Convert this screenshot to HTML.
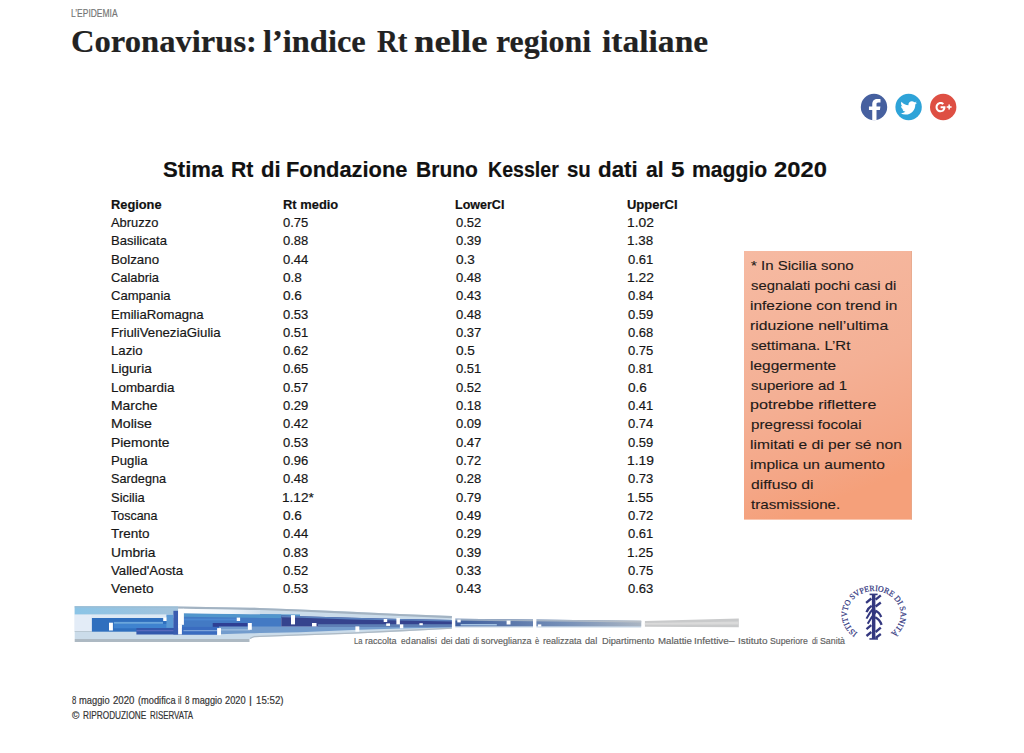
<!DOCTYPE html>
<html lang="it"><head><meta charset="utf-8"><title>Coronavirus: l’indice Rt nelle regioni italiane</title>
<style>
html,body{margin:0;padding:0;background:#fff;}
body{width:1024px;height:753px;position:relative;overflow:hidden;font-family:"Liberation Sans",sans-serif;}
.t{position:absolute;white-space:nowrap;transform-origin:0 0;display:block;-webkit-text-stroke:0.18px currentColor;}
svg{position:absolute;left:0;top:0;}
</style></head><body>
<svg width="1024" height="753" viewBox="0 0 1024 753">
<defs>
<linearGradient id="gbox" x1="0" y1="0" x2="0.25" y2="1">
<stop offset="0" stop-color="#f6baa2"/><stop offset="0.55" stop-color="#f4b095"/><stop offset="0.85" stop-color="#f4a686"/><stop offset="1" stop-color="#f5a07a"/>
</linearGradient>
<linearGradient id="gtop" x1="0" y1="0" x2="1" y2="0">
<stop offset="0" stop-color="#8bc4e6"/><stop offset="1" stop-color="#a3c3dc"/>
</linearGradient>
<linearGradient id="gmid" x1="0" y1="0" x2="1" y2="0">
<stop offset="0" stop-color="#2f74c4"/><stop offset="0.5" stop-color="#3158a8"/><stop offset="1" stop-color="#5a78a8"/>
</linearGradient>
<linearGradient id="gtail" x1="0" y1="0" x2="1" y2="0">
<stop offset="0" stop-color="#3f5e9e"/><stop offset="0.6" stop-color="#7690b8"/><stop offset="1" stop-color="#aab5c3"/>
</linearGradient>
<linearGradient id="gnotch" x1="0" y1="0" x2="1" y2="0">
<stop offset="0" stop-color="#ffffff"/><stop offset="0.6" stop-color="#f1f6fb"/><stop offset="1" stop-color="#d3e2ef"/>
</linearGradient>
<linearGradient id="gtailtop" x1="0" y1="0" x2="1" y2="0">
<stop offset="0" stop-color="#93a8c2"/><stop offset="1" stop-color="#b9c0c8"/>
</linearGradient>
<path id="arc" d="M 857.40 633.02 A 26.8 23.5 0 1 1 890.40 633.02"/>
</defs>

<!-- note box -->
<rect x="744" y="251" width="167.9" height="268.6" fill="url(#gbox)"/>
<rect x="911" y="251" width="0.9" height="268.6" fill="#e3a688" opacity="0.8"/>

<!-- bottom band -->
<g id="band">
<polygon points="74.7,606.3 178.0,606.6 250.0,607.7 254.0,607.8 260.0,607.9 300.0,609.4 352.0,611.7 400.0,613.9 452.0,616.1 452.0,628.8 400.0,631.4 352.0,633.8 300.0,635.6 260.0,637.0 254.0,637.2 250.0,639.0 178.0,639.0 74.7,639.0" fill="#cbdcea"/>
<rect x="74.7" y="639.0" width="174.8" height="3.0" fill="#adb9c3"/>
<polygon points="250.0,637.7 254.0,635.9 260.0,635.7 300.0,634.3 352.0,632.5 400.0,630.1 452.0,627.5 452.0,628.8 400.0,631.4 352.0,633.8 300.0,635.6 260.0,637.0 254.0,637.2 250.0,639.0" fill="#aebac5"/>
<polygon points="74.7,606.3 178.0,606.6 178.1,606.6 178.1,614.6 178.0,614.6 74.7,614.6" fill="url(#gtop)"/>
<polygon points="178.1,606.6 250.0,607.7 254.0,607.8 260.0,607.9 300.0,609.4 352.0,611.7 400.0,613.9 452.0,616.1 452.0,618.3 400.0,616.1 352.0,613.9 300.0,611.6 260.0,610.1 254.0,610.0 250.0,609.9 178.1,608.8" fill="#a3b3c2"/>
<polygon points="74.7,606.3 178.0,606.6 178.1,606.6 178.1,607.8 178.0,607.8 74.7,607.5" fill="#9dbdd3"/>
<rect x="74.7" y="614.6" width="17.2" height="16.8" fill="#e3ecf7"/>
<rect x="91.9" y="614.6" width="86.2" height="3.4" fill="#dde9f4"/>
<rect x="74.7" y="631.0" width="17.2" height="1.0" fill="#b9c8d3"/>
<rect x="91.9" y="618.0" width="81.3" height="13.7" fill="#2f6fbe"/>
<rect x="113.9" y="621.9" width="49.1" height="2.0" fill="#6aa6dc"/>
<rect x="113.9" y="623.9" width="59.3" height="4.4" fill="#3f83cf"/>
<rect x="166.4" y="614.6" width="7.0" height="13.2" fill="#5a98d4"/>
<rect x="136.4" y="628.0" width="80.6" height="6.5" fill="#3458ac"/>
<rect x="136.4" y="630.3" width="80.6" height="0.9" fill="#6a72c4"/>
<rect x="173.4" y="610.8" width="4.7" height="23.7" fill="#3a5cb0"/>
<polygon points="181.7,613.2 250.0,614.2 254.0,614.2 260.0,614.3 281.3,614.6 281.3,626.9 260.0,626.9 254.0,626.9 250.0,626.9 181.7,626.9" fill="#437ac4"/>
<polygon points="183.4,613.2 250.0,614.2 254.0,614.2 260.0,614.3 300.0,614.6 300.0,618.2 260.0,617.9 254.0,617.8 250.0,617.8 183.4,616.8" fill="#5196cc"/>
<rect x="183.4" y="618.6" width="52.6" height="1.8" fill="#4d88d2"/>
<rect x="212.7" y="623.0" width="34.8" height="3.9" fill="#2e3f94"/>
<rect x="181.7" y="626.9" width="37.3" height="7.6" fill="#3a6cc0"/>
<rect x="183.4" y="630.1" width="33.6" height="1.1" fill="#86aadc"/>
<polygon points="219.0,626.4 250.0,626.4 254.0,626.4 260.0,626.4 300.0,626.4 352.0,626.4 400.0,626.4 452.0,626.4 452.0,627.4 400.0,628.6 352.0,630.0 300.0,632.2 260.0,633.0 254.0,633.2 250.0,633.3 219.0,634.2" fill="#739ccd"/>
<rect x="221.0" y="629.4" width="29.0" height="1.0" fill="#a8c6e4"/>
<polygon points="281.3,615.6 300.0,616.2 352.0,617.8 400.0,618.9 452.0,620.0 452.0,626.6 400.0,626.6 352.0,626.6 300.0,626.6 281.3,626.6" fill="#35438e"/>
<polygon points="281.3,615.6 300.0,616.2 352.0,617.8 400.0,618.9 452.0,620.0 452.0,621.6 400.0,620.5 352.0,619.4 300.0,617.8 281.3,617.2" fill="#5a80bd"/>
<rect x="318.0" y="624.2" width="134.0" height="2.6" fill="#5d7eb5"/>
<rect x="178.1" y="608.7" width="5.8" height="16.1" fill="#fff"/>
<rect x="178.1" y="624.8" width="3.8" height="9.5" fill="#fff"/>
<polygon points="183.4,608.8 250.0,609.9 254.0,610.0 260.0,610.1 260.0,614.3 254.0,614.2 250.0,614.2 183.4,613.2" fill="url(#gnotch)"/>
<rect x="109.0" y="622.7" width="3.9" height="7.8" fill="#fff"/>
<rect x="163.2" y="617.6" width="3.4" height="3.4" fill="#fff"/>
<rect x="236.7" y="617.6" width="3.4" height="3.4" fill="#fff"/>
<rect x="247.9" y="623.0" width="3.9" height="6.8" fill="#fff"/>
<rect x="217.1" y="628.1" width="3.9" height="7.1" fill="#fff"/>
<rect x="291.0" y="615.1" width="4.0" height="9.3" fill="#fff"/>
<rect x="312.0" y="623.0" width="4.5" height="3.4" fill="#fff"/>
<rect x="355.4" y="626.4" width="3.9" height="5.3" fill="#fff"/>
<rect x="383.7" y="619.0" width="3.5" height="3.0" fill="#fff"/>
<rect x="386.2" y="623.4" width="3.8" height="2.5" fill="#fff"/>
<rect x="396.4" y="618.0" width="3.5" height="6.4" fill="#fff"/>
<rect x="399.9" y="624.4" width="3.4" height="3.9" fill="#fff"/>
<rect x="419.4" y="623.2" width="3.4" height="2.0" fill="#fff"/>
<polygon points="452.0,618.7 641.2,620.8 641.2,627.6 452.0,627.6" fill="#c6d6e6"/>
<polygon points="452.0,618.7 641.2,620.8 641.2,626.2 452.0,626.2" fill="url(#gtail)"/>
<polygon points="452.0,618.7 641.2,620.8 641.2,622.6 452.0,620.5" fill="url(#gtailtop)"/>
<rect x="460.7" y="624.0" width="36.1" height="1.5" fill="#a3c2e2"/>
<rect x="451.9" y="616.5" width="3.4" height="13.0" fill="#fff"/>
<rect x="533.0" y="617.5" width="3.4" height="11.5" fill="#fff"/>
<rect x="457.3" y="619.6" width="3.4" height="2.8" fill="#fff"/>
<rect x="506.6" y="620.6" width="3.9" height="3.9" fill="#fff"/>
<rect x="537.8" y="624.4" width="3.5" height="2.2" fill="#fff"/>
<polygon points="644.9,621 738.8,618.5 738.8,627.3 644.9,626.7" fill="#c9cacb"/>
<polygon points="644.9,623.0 738.8,621.4 738.8,624.4 644.9,624.8" fill="#dadada"/>
</g>

<!-- social icons -->
<g id="social">
<circle cx="874" cy="107" r="13.2" fill="#46609f"/>
<path transform="translate(0.9,0.3)" d="M875.6 120.0 v-10.2 h3.4 l0.5 -3.6 h-3.9 v-2.3 c0 -1.05 0.3 -1.75 1.8 -1.75 h2.2 v-3.2 c-0.4 -0.05 -1.65 -0.16 -3.1 -0.16 c-3.05 0 -5.15 1.85 -5.15 5.3 v2.1 h-3.3 v3.6 h3.3 v10.4 z" fill="#fff"/>
<circle cx="908.6" cy="107" r="13.2" fill="#2ea3d8"/>
<path transform="translate(900.4,99.6) scale(0.69)" d="M23.95 4.57c-.88.39-1.83.65-2.83.78 1.02-.61 1.8-1.58 2.17-2.72-.95.55-2 .96-3.13 1.19A4.92 4.92 0 0 0 16.57 2.3c-2.72 0-4.92 2.2-4.92 4.92 0 .39.04.76.13 1.12C7.69 8.14 4.07 6.18 1.64 3.2a4.9 4.9 0 0 0-.67 2.47c0 1.71.87 3.21 2.19 4.09a4.9 4.9 0 0 1-2.23-.61v.06c0 2.38 1.69 4.37 3.95 4.83-.42.11-.85.17-1.3.17-.31 0-.62-.03-.92-.08a4.93 4.93 0 0 0 4.6 3.42A9.87 9.87 0 0 1 0 19.54a13.94 13.94 0 0 0 7.55 2.21c9.05 0 14-7.5 14-14 0-.21 0-.42-.02-.63.96-.69 1.8-1.56 2.46-2.55z" fill="#fff"/>
<circle cx="943.2" cy="107" r="13.2" fill="#de4f43"/>
<g fill="#fff">
<path d="M940.6 106.3 v1.9 h2.7 c-0.25 1.2 -1.3 2.05 -2.7 2.05 c-1.7 0 -3.05 -1.4 -3.05 -3.1 s1.35 -3.1 3.05 -3.1 c0.75 0 1.45 0.27 2 0.75 l1.4 -1.4 c-0.9 -0.82 -2.1 -1.3 -3.4 -1.3 c-2.8 0 -5.05 2.25 -5.05 5.05 s2.25 5.05 5.05 5.05 c2.9 0 4.85 -2.05 4.85 -4.95 c0 -0.33 -0.03 -0.65 -0.09 -0.95 z"/>
<path d="M951.6 106.3 h-1.7 v-1.7 h-1.5 v1.7 h-1.7 v1.5 h1.7 v1.7 h1.5 v-1.7 h1.7 z"/>
</g>
</g>

<!-- ISS logo -->
<g id="iss" fill="#33377f">
<text font-family="Liberation Serif, serif" font-size="8.2" stroke="#33377f" stroke-width="0.22" textLength="122.4" lengthAdjust="spacingAndGlyphs"><textPath href="#arc" startOffset="0" textLength="122.4" lengthAdjust="spacingAndGlyphs">ISTITVTO SVPERIORE DI SANITÀ</textPath></text>
<rect x="871.9" y="594.4" width="3.5" height="44.6"/>
<rect x="869.6" y="593.6" width="8" height="1.6"/>
<rect x="869.4" y="638.2" width="8.6" height="1.5"/>
<g fill="none" stroke="#33377f" stroke-width="2.3" stroke-linecap="butt">
<path d="M875.6 599.7 L880.8 595.3"/>
<path d="M875.6 606.5 L880.8 602.5"/>
<path d="M875.2 610.5 Q879.4 612.2 881.2 617"/>
<path d="M875.2 617.3 Q879.8 619.6 881.6 624.8"/>
<path d="M875.6 632 L880.8 627.6"/>
<path d="M875.6 638 L880.8 634"/>
<path d="M866.1 602.9 L871.3 598.5"/>
<path d="M866.5 612.2 Q868.2 607.8 871.7 605.7"/>
<path d="M866.5 618.6 Q869.8 612 874.4 607.2" stroke-width="2"/>
<path d="M867.7 623.8 Q871.6 616.8 876 611.6" stroke-width="2"/>
<path d="M866.5 629.2 L871.3 625.2"/>
<path d="M866.5 636 L871.3 632"/>
</g>
</g>
</svg>

<span class="t" style="left:71.09px;top:5px;font-size:10.8px;line-height:16px;color:#757575;transform:scaleX(0.7834);">L’EPIDEMIA</span>
<span class="t" style="left:71.36px;top:21px;font-size:32px;line-height:40px;font-weight:bold;font-family:'Liberation Serif',serif;color:#222;transform:scaleX(1.0186);">Coronavirus:</span>
<span class="t" style="left:263.49px;top:21px;font-size:32px;line-height:40px;font-weight:bold;font-family:'Liberation Serif',serif;color:#222;transform:scaleX(1.0134);">l’indice</span>
<span class="t" style="left:376.74px;top:21px;font-size:32px;line-height:40px;font-weight:bold;font-family:'Liberation Serif',serif;color:#222;transform:scaleX(0.9000);">Rt</span>
<span class="t" style="left:414.43px;top:21px;font-size:32px;line-height:40px;font-weight:bold;font-family:'Liberation Serif',serif;color:#222;transform:scaleX(1.1500);">nelle</span>
<span class="t" style="left:496.14px;top:21px;font-size:32px;line-height:40px;font-weight:bold;font-family:'Liberation Serif',serif;color:#222;transform:scaleX(0.9962);">regioni</span>
<span class="t" style="left:602.09px;top:21px;font-size:32px;line-height:40px;font-weight:bold;font-family:'Liberation Serif',serif;color:#222;transform:scaleX(1.0476);">italiane</span>
<span class="t" style="left:163.03px;top:155px;font-size:22px;line-height:29px;font-weight:bold;color:#111;transform:scaleX(1.0058);">Stima</span>
<span class="t" style="left:230.75px;top:155px;font-size:22px;line-height:29px;font-weight:bold;color:#111;transform:scaleX(0.9644);">Rt</span>
<span class="t" style="left:261.03px;top:155px;font-size:22px;line-height:29px;font-weight:bold;color:#111;transform:scaleX(1.0046);">di</span>
<span class="t" style="left:286.49px;top:155px;font-size:22px;line-height:29px;font-weight:bold;color:#111;transform:scaleX(0.9942);">Fondazione</span>
<span class="t" style="left:416.31px;top:155px;font-size:22px;line-height:29px;font-weight:bold;color:#111;transform:scaleX(0.9569);">Bruno</span>
<span class="t" style="left:488.19px;top:155px;font-size:22px;line-height:29px;font-weight:bold;color:#111;transform:scaleX(0.8908);">Kessler</span>
<span class="t" style="left:567.35px;top:155px;font-size:22px;line-height:29px;font-weight:bold;color:#111;transform:scaleX(0.9293);">su</span>
<span class="t" style="left:598.46px;top:155px;font-size:22px;line-height:29px;font-weight:bold;color:#111;transform:scaleX(1.0160);">dati</span>
<span class="t" style="left:645.72px;top:155px;font-size:22px;line-height:29px;font-weight:bold;color:#111;transform:scaleX(0.9593);">al</span>
<span class="t" style="left:670.86px;top:155px;font-size:22px;line-height:29px;font-weight:bold;color:#111;transform:scaleX(1.1030);">5</span>
<span class="t" style="left:691.86px;top:155px;font-size:22px;line-height:29px;font-weight:bold;color:#111;transform:scaleX(0.9624);">maggio</span>
<span class="t" style="left:774.02px;top:155px;font-size:22px;line-height:29px;font-weight:bold;color:#111;transform:scaleX(1.0796);">2020</span>
<span class="t" style="left:110.66px;top:196px;font-size:12.6px;line-height:18px;font-weight:bold;color:#111;transform:scaleX(1.0181);">Regione</span>
<span class="t" style="left:282.98px;top:196px;font-size:12.6px;line-height:18px;font-weight:bold;color:#111;transform:scaleX(1.0255);">Rt medio</span>
<span class="t" style="left:455.34px;top:196px;font-size:12.6px;line-height:18px;font-weight:bold;color:#111;transform:scaleX(0.9936);">LowerCI</span>
<span class="t" style="left:626.87px;top:196px;font-size:12.6px;line-height:18px;font-weight:bold;color:#111;transform:scaleX(1.0307);">UpperCI</span>
<span class="t" style="left:111.02px;top:214px;font-size:12.6px;line-height:18px;color:#161616;transform:scaleX(1.0243);">Abruzzo</span>
<span class="t" style="left:283.33px;top:214px;font-size:12.6px;line-height:18px;color:#161616;transform:scaleX(1.0331);">0.75</span>
<span class="t" style="left:455.59px;top:214px;font-size:12.6px;line-height:18px;color:#161616;transform:scaleX(1.0331);">0.52</span>
<span class="t" style="left:626.81px;top:214px;font-size:12.6px;line-height:18px;color:#161616;transform:scaleX(1.0984);">1.02</span>
<span class="t" style="left:110.65px;top:232px;font-size:12.6px;line-height:18px;color:#161616;transform:scaleX(1.0371);">Basilicata</span>
<span class="t" style="left:283.33px;top:232px;font-size:12.6px;line-height:18px;color:#161616;transform:scaleX(1.0331);">0.88</span>
<span class="t" style="left:455.59px;top:232px;font-size:12.6px;line-height:18px;color:#161616;transform:scaleX(1.0331);">0.39</span>
<span class="t" style="left:626.84px;top:232px;font-size:12.6px;line-height:18px;color:#161616;transform:scaleX(1.0658);">1.38</span>
<span class="t" style="left:110.63px;top:251px;font-size:12.6px;line-height:18px;color:#161616;transform:scaleX(1.0552);">Bolzano</span>
<span class="t" style="left:283.33px;top:251px;font-size:12.6px;line-height:18px;color:#161616;transform:scaleX(1.0331);">0.44</span>
<span class="t" style="left:455.55px;top:251px;font-size:12.6px;line-height:18px;color:#161616;transform:scaleX(1.0783);">0.3</span>
<span class="t" style="left:627.55px;top:251px;font-size:12.6px;line-height:18px;color:#161616;transform:scaleX(1.0331);">0.61</span>
<span class="t" style="left:111.34px;top:269px;font-size:12.6px;line-height:18px;color:#161616;transform:scaleX(1.0231);">Calabria</span>
<span class="t" style="left:283.29px;top:269px;font-size:12.6px;line-height:18px;color:#161616;transform:scaleX(1.0783);">0.8</span>
<span class="t" style="left:455.59px;top:269px;font-size:12.6px;line-height:18px;color:#161616;transform:scaleX(1.0331);">0.48</span>
<span class="t" style="left:626.81px;top:269px;font-size:12.6px;line-height:18px;color:#161616;transform:scaleX(1.0984);">1.22</span>
<span class="t" style="left:111.49px;top:287px;font-size:12.6px;line-height:18px;color:#161616;transform:scaleX(1.0373);">Campania</span>
<span class="t" style="left:283.29px;top:287px;font-size:12.6px;line-height:18px;color:#161616;transform:scaleX(1.0783);">0.6</span>
<span class="t" style="left:455.59px;top:287px;font-size:12.6px;line-height:18px;color:#161616;transform:scaleX(1.0331);">0.43</span>
<span class="t" style="left:627.55px;top:287px;font-size:12.6px;line-height:18px;color:#161616;transform:scaleX(1.0331);">0.84</span>
<span class="t" style="left:110.64px;top:306px;font-size:12.6px;line-height:18px;color:#161616;transform:scaleX(1.0425);">EmiliaRomagna</span>
<span class="t" style="left:283.33px;top:306px;font-size:12.6px;line-height:18px;color:#161616;transform:scaleX(1.0331);">0.53</span>
<span class="t" style="left:455.59px;top:306px;font-size:12.6px;line-height:18px;color:#161616;transform:scaleX(1.0331);">0.48</span>
<span class="t" style="left:627.55px;top:306px;font-size:12.6px;line-height:18px;color:#161616;transform:scaleX(1.0331);">0.59</span>
<span class="t" style="left:110.63px;top:324px;font-size:12.6px;line-height:18px;color:#161616;transform:scaleX(1.0513);">FriuliVeneziaGiulia</span>
<span class="t" style="left:283.33px;top:324px;font-size:12.6px;line-height:18px;color:#161616;transform:scaleX(1.0331);">0.51</span>
<span class="t" style="left:455.59px;top:324px;font-size:12.6px;line-height:18px;color:#161616;transform:scaleX(1.0331);">0.37</span>
<span class="t" style="left:627.55px;top:324px;font-size:12.6px;line-height:18px;color:#161616;transform:scaleX(1.0331);">0.68</span>
<span class="t" style="left:110.63px;top:342px;font-size:12.6px;line-height:18px;color:#161616;transform:scaleX(1.0491);">Lazio</span>
<span class="t" style="left:283.33px;top:342px;font-size:12.6px;line-height:18px;color:#161616;transform:scaleX(1.0331);">0.62</span>
<span class="t" style="left:455.55px;top:342px;font-size:12.6px;line-height:18px;color:#161616;transform:scaleX(1.0783);">0.5</span>
<span class="t" style="left:627.55px;top:342px;font-size:12.6px;line-height:18px;color:#161616;transform:scaleX(1.0331);">0.75</span>
<span class="t" style="left:110.61px;top:360px;font-size:12.6px;line-height:18px;color:#161616;transform:scaleX(1.0760);">Liguria</span>
<span class="t" style="left:283.33px;top:360px;font-size:12.6px;line-height:18px;color:#161616;transform:scaleX(1.0331);">0.65</span>
<span class="t" style="left:455.59px;top:360px;font-size:12.6px;line-height:18px;color:#161616;transform:scaleX(1.0331);">0.51</span>
<span class="t" style="left:627.55px;top:360px;font-size:12.6px;line-height:18px;color:#161616;transform:scaleX(1.0331);">0.81</span>
<span class="t" style="left:110.62px;top:379px;font-size:12.6px;line-height:18px;color:#161616;transform:scaleX(1.0661);">Lombardia</span>
<span class="t" style="left:283.33px;top:379px;font-size:12.6px;line-height:18px;color:#161616;transform:scaleX(1.0331);">0.57</span>
<span class="t" style="left:455.59px;top:379px;font-size:12.6px;line-height:18px;color:#161616;transform:scaleX(1.0331);">0.52</span>
<span class="t" style="left:627.51px;top:379px;font-size:12.6px;line-height:18px;color:#161616;transform:scaleX(1.0783);">0.6</span>
<span class="t" style="left:110.58px;top:397px;font-size:12.6px;line-height:18px;color:#161616;transform:scaleX(1.1064);">Marche</span>
<span class="t" style="left:283.33px;top:397px;font-size:12.6px;line-height:18px;color:#161616;transform:scaleX(1.0331);">0.29</span>
<span class="t" style="left:455.59px;top:397px;font-size:12.6px;line-height:18px;color:#161616;transform:scaleX(1.0331);">0.18</span>
<span class="t" style="left:627.55px;top:397px;font-size:12.6px;line-height:18px;color:#161616;transform:scaleX(1.0331);">0.41</span>
<span class="t" style="left:110.57px;top:415px;font-size:12.6px;line-height:18px;color:#161616;transform:scaleX(1.1236);">Molise</span>
<span class="t" style="left:283.33px;top:415px;font-size:12.6px;line-height:18px;color:#161616;transform:scaleX(1.0331);">0.42</span>
<span class="t" style="left:455.59px;top:415px;font-size:12.6px;line-height:18px;color:#161616;transform:scaleX(1.0331);">0.09</span>
<span class="t" style="left:627.55px;top:415px;font-size:12.6px;line-height:18px;color:#161616;transform:scaleX(1.0331);">0.74</span>
<span class="t" style="left:110.59px;top:434px;font-size:12.6px;line-height:18px;color:#161616;transform:scaleX(1.0986);">Piemonte</span>
<span class="t" style="left:283.33px;top:434px;font-size:12.6px;line-height:18px;color:#161616;transform:scaleX(1.0331);">0.53</span>
<span class="t" style="left:455.59px;top:434px;font-size:12.6px;line-height:18px;color:#161616;transform:scaleX(1.0331);">0.47</span>
<span class="t" style="left:627.55px;top:434px;font-size:12.6px;line-height:18px;color:#161616;transform:scaleX(1.0331);">0.59</span>
<span class="t" style="left:110.64px;top:452px;font-size:12.6px;line-height:18px;color:#161616;transform:scaleX(1.0443);">Puglia</span>
<span class="t" style="left:283.33px;top:452px;font-size:12.6px;line-height:18px;color:#161616;transform:scaleX(1.0331);">0.96</span>
<span class="t" style="left:455.59px;top:452px;font-size:12.6px;line-height:18px;color:#161616;transform:scaleX(1.0331);">0.72</span>
<span class="t" style="left:626.81px;top:452px;font-size:12.6px;line-height:18px;color:#161616;transform:scaleX(1.0984);">1.19</span>
<span class="t" style="left:110.67px;top:470px;font-size:12.6px;line-height:18px;color:#161616;transform:scaleX(1.0088);">Sardegna</span>
<span class="t" style="left:283.33px;top:470px;font-size:12.6px;line-height:18px;color:#161616;transform:scaleX(1.0331);">0.48</span>
<span class="t" style="left:455.59px;top:470px;font-size:12.6px;line-height:18px;color:#161616;transform:scaleX(1.0331);">0.28</span>
<span class="t" style="left:627.55px;top:470px;font-size:12.6px;line-height:18px;color:#161616;transform:scaleX(1.0331);">0.73</span>
<span class="t" style="left:110.65px;top:489px;font-size:12.6px;line-height:18px;color:#161616;transform:scaleX(1.0268);">Sicilia</span>
<span class="t" style="left:282.49px;top:489px;font-size:12.6px;line-height:18px;color:#161616;transform:scaleX(1.0804);">1.12*</span>
<span class="t" style="left:455.59px;top:489px;font-size:12.6px;line-height:18px;color:#161616;transform:scaleX(1.0331);">0.79</span>
<span class="t" style="left:626.84px;top:489px;font-size:12.6px;line-height:18px;color:#161616;transform:scaleX(1.0658);">1.55</span>
<span class="t" style="left:111.37px;top:507px;font-size:12.6px;line-height:18px;color:#161616;transform:scaleX(0.9898);">Toscana</span>
<span class="t" style="left:283.29px;top:507px;font-size:12.6px;line-height:18px;color:#161616;transform:scaleX(1.0783);">0.6</span>
<span class="t" style="left:455.59px;top:507px;font-size:12.6px;line-height:18px;color:#161616;transform:scaleX(1.0331);">0.49</span>
<span class="t" style="left:627.55px;top:507px;font-size:12.6px;line-height:18px;color:#161616;transform:scaleX(1.0331);">0.72</span>
<span class="t" style="left:111.45px;top:525px;font-size:12.6px;line-height:18px;color:#161616;transform:scaleX(1.0726);">Trento</span>
<span class="t" style="left:283.33px;top:525px;font-size:12.6px;line-height:18px;color:#161616;transform:scaleX(1.0331);">0.44</span>
<span class="t" style="left:455.59px;top:525px;font-size:12.6px;line-height:18px;color:#161616;transform:scaleX(1.0331);">0.29</span>
<span class="t" style="left:627.55px;top:525px;font-size:12.6px;line-height:18px;color:#161616;transform:scaleX(1.0331);">0.61</span>
<span class="t" style="left:110.59px;top:544px;font-size:12.6px;line-height:18px;color:#161616;transform:scaleX(1.0949);">Umbria</span>
<span class="t" style="left:283.33px;top:544px;font-size:12.6px;line-height:18px;color:#161616;transform:scaleX(1.0331);">0.83</span>
<span class="t" style="left:455.59px;top:544px;font-size:12.6px;line-height:18px;color:#161616;transform:scaleX(1.0331);">0.39</span>
<span class="t" style="left:626.84px;top:544px;font-size:12.6px;line-height:18px;color:#161616;transform:scaleX(1.0658);">1.25</span>
<span class="t" style="left:111.47px;top:562px;font-size:12.6px;line-height:18px;color:#161616;transform:scaleX(1.0495);">Valled'Aosta</span>
<span class="t" style="left:283.33px;top:562px;font-size:12.6px;line-height:18px;color:#161616;transform:scaleX(1.0331);">0.52</span>
<span class="t" style="left:455.59px;top:562px;font-size:12.6px;line-height:18px;color:#161616;transform:scaleX(1.0331);">0.33</span>
<span class="t" style="left:627.55px;top:562px;font-size:12.6px;line-height:18px;color:#161616;transform:scaleX(1.0331);">0.75</span>
<span class="t" style="left:111.44px;top:580px;font-size:12.6px;line-height:18px;color:#161616;transform:scaleX(1.0875);">Veneto</span>
<span class="t" style="left:283.33px;top:580px;font-size:12.6px;line-height:18px;color:#161616;transform:scaleX(1.0331);">0.53</span>
<span class="t" style="left:455.59px;top:580px;font-size:12.6px;line-height:18px;color:#161616;transform:scaleX(1.0331);">0.43</span>
<span class="t" style="left:627.55px;top:580px;font-size:12.6px;line-height:18px;color:#161616;transform:scaleX(1.0331);">0.63</span>
<span class="t" style="left:751.05px;top:256px;font-size:13.6px;line-height:19px;color:#1f1a18;transform:scaleX(1.1046);-webkit-text-stroke-width:0.12px;">* In Sicilia sono</span>
<span class="t" style="left:751.05px;top:276px;font-size:13.6px;line-height:19px;color:#1f1a18;transform:scaleX(1.0920);-webkit-text-stroke-width:0.12px;">segnalati pochi casi di</span>
<span class="t" style="left:750.49px;top:296px;font-size:13.6px;line-height:19px;color:#1f1a18;transform:scaleX(1.1396);-webkit-text-stroke-width:0.12px;">infezione con trend in</span>
<span class="t" style="left:750.48px;top:316px;font-size:13.6px;line-height:19px;color:#1f1a18;transform:scaleX(1.1570);-webkit-text-stroke-width:0.12px;">riduzione nell’ultima</span>
<span class="t" style="left:751.05px;top:336px;font-size:13.6px;line-height:19px;color:#1f1a18;transform:scaleX(1.1049);-webkit-text-stroke-width:0.12px;">settimana. L’Rt</span>
<span class="t" style="left:750.49px;top:356px;font-size:13.6px;line-height:19px;color:#1f1a18;transform:scaleX(1.1386);-webkit-text-stroke-width:0.12px;">leggermente</span>
<span class="t" style="left:751.05px;top:376px;font-size:13.6px;line-height:19px;color:#1f1a18;transform:scaleX(1.1064);-webkit-text-stroke-width:0.12px;">superiore ad 1</span>
<span class="t" style="left:750.45px;top:395px;font-size:13.6px;line-height:19px;color:#1f1a18;transform:scaleX(1.1861);-webkit-text-stroke-width:0.12px;">potrebbe riflettere</span>
<span class="t" style="left:750.51px;top:415px;font-size:13.6px;line-height:19px;color:#1f1a18;transform:scaleX(1.1185);-webkit-text-stroke-width:0.12px;">pregressi focolai</span>
<span class="t" style="left:750.48px;top:435px;font-size:13.6px;line-height:19px;color:#1f1a18;transform:scaleX(1.1482);-webkit-text-stroke-width:0.12px;">limitati e di per sé non</span>
<span class="t" style="left:750.49px;top:455px;font-size:13.6px;line-height:19px;color:#1f1a18;transform:scaleX(1.1435);-webkit-text-stroke-width:0.12px;">implica un aumento</span>
<span class="t" style="left:751.03px;top:475px;font-size:13.6px;line-height:19px;color:#1f1a18;transform:scaleX(1.1555);-webkit-text-stroke-width:0.12px;">diffuso di</span>
<span class="t" style="left:751.20px;top:495px;font-size:13.6px;line-height:19px;color:#1f1a18;transform:scaleX(1.1146);-webkit-text-stroke-width:0.12px;">trasmissione.</span>
<span class="t" style="left:353.81px;top:634px;font-size:8.9px;line-height:14px;color:#606060;transform:scaleX(0.8528);-webkit-text-stroke-width:0.15px;">La</span>
<span class="t" style="left:365.05px;top:634px;font-size:8.9px;line-height:14px;color:#606060;transform:scaleX(1.0143);-webkit-text-stroke-width:0.15px;">raccolta</span>
<span class="t" style="left:400.77px;top:634px;font-size:8.9px;line-height:14px;color:#606060;transform:scaleX(0.9439);-webkit-text-stroke-width:0.15px;">ed</span>
<span class="t" style="left:411.26px;top:634px;font-size:8.9px;line-height:14px;color:#606060;transform:scaleX(1.0322);-webkit-text-stroke-width:0.15px;">analisi</span>
<span class="t" style="left:440.51px;top:634px;font-size:8.9px;line-height:14px;color:#606060;transform:scaleX(0.9745);-webkit-text-stroke-width:0.15px;">dei</span>
<span class="t" style="left:455.16px;top:634px;font-size:8.9px;line-height:14px;color:#606060;transform:scaleX(1.0314);-webkit-text-stroke-width:0.15px;">dati</span>
<span class="t" style="left:472.58px;top:634px;font-size:8.9px;line-height:14px;color:#606060;transform:scaleX(0.8641);-webkit-text-stroke-width:0.15px;">di</span>
<span class="t" style="left:481.49px;top:634px;font-size:8.9px;line-height:14px;color:#606060;transform:scaleX(1.0163);-webkit-text-stroke-width:0.15px;">sorveglianza</span>
<span class="t" style="left:535.37px;top:634px;font-size:8.9px;line-height:14px;color:#606060;transform:scaleX(0.8509);-webkit-text-stroke-width:0.15px;">è</span>
<span class="t" style="left:542.83px;top:634px;font-size:8.9px;line-height:14px;color:#606060;transform:scaleX(1.0141);-webkit-text-stroke-width:0.15px;">realizzata</span>
<span class="t" style="left:584.82px;top:634px;font-size:8.9px;line-height:14px;color:#606060;transform:scaleX(1.0302);-webkit-text-stroke-width:0.15px;">dal</span>
<span class="t" style="left:602.45px;top:634px;font-size:8.9px;line-height:14px;color:#606060;transform:scaleX(1.0419);-webkit-text-stroke-width:0.15px;">Dipartimento</span>
<span class="t" style="left:658.34px;top:634px;font-size:8.9px;line-height:14px;color:#606060;transform:scaleX(1.0902);-webkit-text-stroke-width:0.15px;">Malattie</span>
<span class="t" style="left:694.06px;top:634px;font-size:8.9px;line-height:14px;color:#606060;transform:scaleX(1.1224);-webkit-text-stroke-width:0.15px;">Infettive–</span>
<span class="t" style="left:737.52px;top:634px;font-size:8.9px;line-height:14px;color:#606060;transform:scaleX(1.1264);-webkit-text-stroke-width:0.15px;">Istituto</span>
<span class="t" style="left:769.51px;top:634px;font-size:8.9px;line-height:14px;color:#606060;transform:scaleX(0.9838);-webkit-text-stroke-width:0.15px;">Superiore</span>
<span class="t" style="left:811.50px;top:634px;font-size:8.9px;line-height:14px;color:#606060;transform:scaleX(0.8323);-webkit-text-stroke-width:0.15px;">di</span>
<span class="t" style="left:820.48px;top:634px;font-size:8.9px;line-height:14px;color:#606060;transform:scaleX(0.9924);-webkit-text-stroke-width:0.15px;">Sanità</span>
<span class="t" style="left:72.26px;top:692px;font-size:10.6px;line-height:16px;color:#333;transform:scaleX(0.7273);">8</span>
<span class="t" style="left:79.03px;top:692px;font-size:10.6px;line-height:16px;color:#333;transform:scaleX(0.8816);">maggio</span>
<span class="t" style="left:113.13px;top:692px;font-size:10.6px;line-height:16px;color:#333;transform:scaleX(0.9083);">2020</span>
<span class="t" style="left:137.59px;top:692px;font-size:10.6px;line-height:16px;color:#333;transform:scaleX(0.8751);">(modifica</span>
<span class="t" style="left:178.26px;top:692px;font-size:10.6px;line-height:16px;color:#333;transform:scaleX(0.7238);">il</span>
<span class="t" style="left:184.53px;top:692px;font-size:10.6px;line-height:16px;color:#333;transform:scaleX(0.7645);">8</span>
<span class="t" style="left:191.94px;top:692px;font-size:10.6px;line-height:16px;color:#333;transform:scaleX(0.8689);">maggio</span>
<span class="t" style="left:225.45px;top:692px;font-size:10.6px;line-height:16px;color:#333;transform:scaleX(0.8752);">2020</span>
<span class="t" style="left:249.44px;top:692px;font-size:10.6px;line-height:16px;color:#333;transform:scaleX(1.0470);">|</span>
<span class="t" style="left:255.64px;top:692px;font-size:10.6px;line-height:16px;color:#333;transform:scaleX(0.9171);">15:52)</span>
<span class="t" style="left:72.10px;top:708px;font-size:10.4px;line-height:15px;color:#333;transform:scaleX(0.9653);">©</span>
<span class="t" style="left:82.54px;top:708px;font-size:10.4px;line-height:15px;color:#333;transform:scaleX(0.7941);">RIPRODUZIONE</span>
<span class="t" style="left:149.79px;top:708px;font-size:10.4px;line-height:15px;color:#333;transform:scaleX(0.7613);">RISERVATA</span>
</body></html>
